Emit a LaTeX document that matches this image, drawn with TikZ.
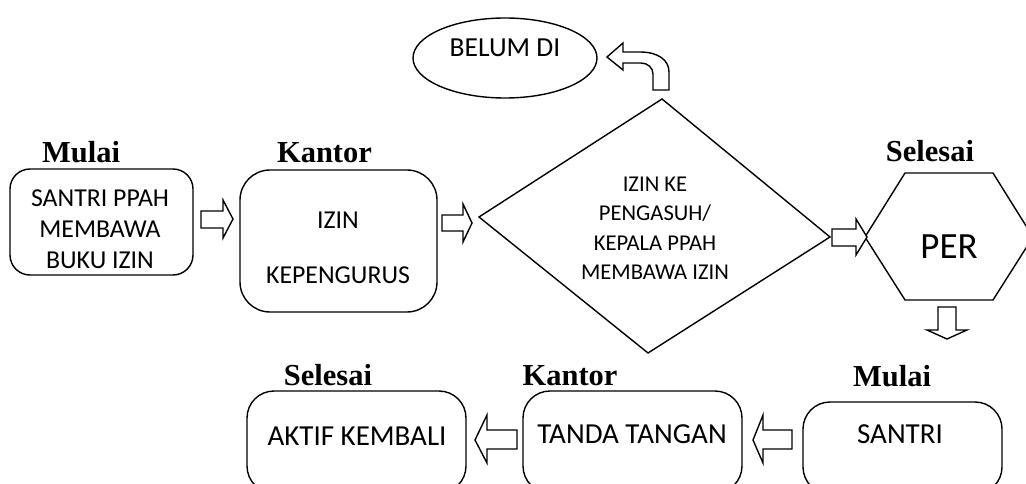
\documentclass[tikz,border=0pt]{standalone}
\usepackage{fontspec}
\setmainfont{Carlito}
\newfontfamily\tnr{Liberation Serif}
\begin{document}
\begin{tikzpicture}[x=1pt,y=-1pt,line width=1.4pt,line join=miter,
  rbox/.style={draw,inner sep=0pt,rounded corners=#1},
  txt/.style={inner sep=0pt,anchor=base,font=\fontsize{25.8}{30}\selectfont},
  dtxt/.style={inner sep=0pt,anchor=base,font=\fontsize{22.6}{27}\selectfont},
  btxt/.style={inner sep=0pt,anchor=base,font=\fontsize{29}{34}\selectfont},
  lbl/.style={inner sep=0pt,anchor=base,font=\tnr\bfseries\fontsize{30.5}{34}\selectfont},
  blockarrow/.style={draw,fill=white,line width=1.4pt}]
\useasboundingbox (0,0) rectangle (1026,484);
\fill[white] (0,0) rectangle (1026,484);
\clip (0,0) rectangle (1026,484);

% ---- ellipse ----
\draw (505,58) ellipse [x radius=92, y radius=40];
\node[inner sep=0pt,anchor=base,font=\fontsize{27.5}{32}\selectfont] (belum) at (505,57) {BELUM DI};

% ---- U-turn arrow ----
\draw[blockarrow] (623,52) -- (640,52) .. controls (658,52) and (669,60) .. (669,72)
  -- (669,90) -- (653,90) -- (653,74) .. controls (653,68) and (648,63) .. (641,63)
  -- (623,63) -- (623,70) -- (607,57) -- (623,43) -- cycle;

% ---- top row ----
\node[lbl] (mulai1) at (81,163) {Mulai};
\node[rbox=20pt,minimum width=183pt,minimum height=106pt] (b1) at (101.5,222) {};
\node[txt] (b1a) at (100,207) {SANTRI PPAH};
\node[txt] (b1b) at (100,237) {MEMBAWA};
\node[txt] (b1c) at (100,268) {BUKU IZIN};

\node[lbl] (kantor1) at (324.5,163) {Kantor};
\node[rbox=30pt,minimum width=197pt,minimum height=142pt] (b2) at (338.5,241) {};
\node[txt] (b2a) at (338,228) {IZIN};
\node[txt] (b2b) at (338,283) {KEPENGURUS};

% diamond
\coordinate (dl) at (479,217);
\coordinate (dt) at (662,99);
\coordinate (dr) at (830,237);
\coordinate (db) at (648,353);
\draw (dl) -- (dt) -- (dr) -- (db) -- cycle;
\node[dtxt] (d1) at (655,192) {IZIN KE};
\node[dtxt] (d2) at (655,221) {PENGASUH/};
\node[dtxt] (d3) at (655,250) {KEPALA PPAH};
\node[dtxt] (d4) at (655,279) {MEMBAWA IZIN};

% hexagon
\node[lbl] (selesai1) at (930,162) {Selesai};
\draw (905,173) -- (993,173) -- (1033,237) -- (993,300) -- (905,300) -- (865,237) -- cycle;
\node[inner sep=0pt,anchor=base,font=\fontsize{37}{40}\selectfont] (per) at (949,258) {PER};

% right block arrows
\draw[blockarrow] (201,211) -- (223,211) -- (223,200) -- (233,219) -- (223,238) -- (223,228) -- (201,228) -- cycle;
\draw[blockarrow] (442,215) -- (463,215) -- (463,204) -- (472,223) -- (463,242) -- (463,231) -- (442,231) -- cycle;
\draw[blockarrow] (832,229) -- (856,229) -- (856,219) -- (867,237) -- (856,255) -- (856,246) -- (832,246) -- cycle;
% down arrow
\draw[blockarrow] (938,307) -- (956,307) -- (956,330) -- (967,330) -- (947,339) -- (927,330) -- (938,330) -- cycle;

% ---- bottom row ----
\node[lbl] (selesai2) at (328,385) {Selesai};
\node[rbox=27pt,minimum width=219pt,minimum height=102pt] (b5) at (356.5,442) {};
\node[btxt] (b5a) at (357,445) {AKTIF KEMBALI};

\node[lbl] (kantor2) at (570,385) {Kantor};
\node[rbox=27pt,minimum width=219pt,minimum height=102pt] (b4) at (632.5,442) {};
\node[btxt] (b4a) at (632,443) {TANDA TANGAN};

\node[lbl] (mulai2) at (892,386) {Mulai};
\node[rbox=27pt,minimum width=199pt,minimum height=92pt] (b3) at (902.5,448) {};
\node[btxt] (b3a) at (900,443) {SANTRI};

% left block arrows
\draw[blockarrow] (517,430) -- (487,430) -- (487,415) -- (475,440) -- (487,463) -- (487,449) -- (517,449) -- cycle;
\draw[blockarrow] (792,430) -- (763,430) -- (763,415) -- (753,440) -- (763,463) -- (763,449) -- (792,449) -- cycle;
\end{tikzpicture}
\end{document}
